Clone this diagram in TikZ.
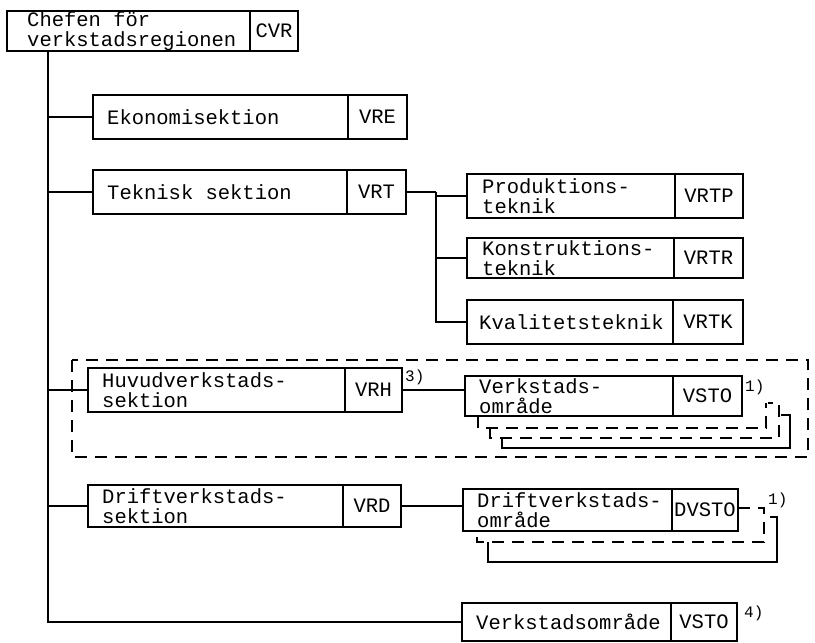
\documentclass[tikz,border=0pt]{standalone}
\usepackage{fontspec}
\setmainfont{Liberation Mono}
\usetikzlibrary{calc}
\tikzset{
 conn/.style={line width=1.8pt},
 boxbase/.style={draw, line width=1.7pt, rectangle, inner sep=0pt, outer sep=0pt},
 lbl/.style={align=left, inner sep=0pt, font=\fontsize{20.5}{20}\selectfont},
 cod/.style={boxbase, font=\fontsize{20.5}{20}\selectfont},
 note/.style={inner sep=0pt, font=\fontsize{16}{16}\selectfont},
 dsh/.style={line width=1.5pt, dash pattern=on 12pt off 8pt},
}
\newcommand\obox[9]{%
 \node[boxbase, minimum width=#4pt, minimum height=#6pt, anchor=north west] (#1b) at (#2,#3) {};
 \node[lbl, anchor=west] (#1) at ([xshift=#7pt]#1b.west) {#8};
 \node[cod, minimum width=#5pt, minimum height=#6pt, anchor=west] (#1c) at (#1b.east) {#9};
}
\begin{document}
\begin{tikzpicture}[x=1pt,y=-1pt]
\useasboundingbox (0,0) rectangle (815,643);
% boxes
\obox{cvr}{7}{11}{243}{48}{40}{20}{Chefen för\\verkstadsregionen}{CVR}
\obox{eko}{93}{95}{255}{59}{44}{14}{Ekonomisektion}{VRE}
\obox{tek}{93}{170}{254}{59}{44}{14}{Teknisk sektion}{VRT}
\obox{prod}{467}{174}{208}{68}{44}{15}{Produktions-\\teknik}{VRTP}
\obox{kons}{467}{238}{207}{69}{40}{15}{Konstruktions-\\teknik}{VRTR}
\obox{kval}{467}{300}{206}{70}{44}{12}{Kvalitetsteknik}{VRTK}
\obox{huv}{88}{368}{257}{57}{44}{14}{Huvudverkstads-\\sektion}{VRH}
\obox{vsa}{465}{376}{208}{69}{40}{14}{Verkstads-\\område}{VSTO}
\obox{dri}{88}{485}{255}{58}{42}{14}{Driftverkstads-\\sektion}{VRD}
\obox{dvs}{463}{489}{209}{66}{42}{14}{Driftverkstads-\\område}{DVSTO}
\obox{vsb}{462}{603}{209}{66}{38}{14}{Verkstadsområde}{VSTO}
% trunk
\coordinate (T) at ([xshift=41pt]cvrb.south west);
\draw[conn] (T) |- (vsbb.west);
\draw[conn] (T |- ekob.west) -- (ekob.west);
\draw[conn] (T |- tekb.west) -- (tekb.west);
\draw[conn] (T |- huvb.west) -- (huvb.west);
\draw[conn] (T |- drib.west) -- (drib.west);
% technical sub-branch
\draw[conn] (tekc.east) -- ++(30,0) coordinate (S);
\draw[conn] (S) |- (kvalb.west);
\draw[conn] (S |- prodb.west) -- (prodb.west);
\draw[conn] (S |- konsb.west) -- (konsb.west);
% VRH -> VSTO
\draw[conn] (huvc.east) -- (huvc.east -| vsab.west);
\node[note, anchor=north west] (n3) at ([xshift=3pt,yshift=-2pt]huvc.north east) {3)};
% VSTO stack
\draw[dsh] ([xshift=13pt]vsab.south west) |- (766,428) -- (766,403);
\draw[dsh] ([xshift=25pt]vsab.south west) ++(0,12) |- (779,438) -- (779,403) -- (768,403);
\draw[conn] ([xshift=37pt]vsab.south west) ++(0,22) |- (790,448) -- (790,415) -- (781,415);
\node[note, anchor=north west] (n1a) at ([xshift=3pt,yshift=-4pt]vsac.north east) {1)};
% dashed frame
\draw[dsh] (72,360) rectangle (808,457);
% VRD -> DVSTO
\draw[conn] (dric.east) -- (dric.east -| dvsb.west);
\draw[dsh] (dvsc.east |- 0,508) -- (764,508) -- (764,542) -| ([xshift=14pt]dvsb.south west);
\draw[conn] ([xshift=25pt]dvsb.south west) ++(0,11) |- (777,562) -- (777,517) -- (770,517);
\node[note, anchor=north west] (n1b) at ([xshift=30pt,yshift=-4pt]dvsc.north east) {1)};
% footnote 4
\node[note, anchor=north west] (n4) at ([xshift=7pt,yshift=-3pt]vsbc.north east) {4)};
\end{tikzpicture}
\end{document}
